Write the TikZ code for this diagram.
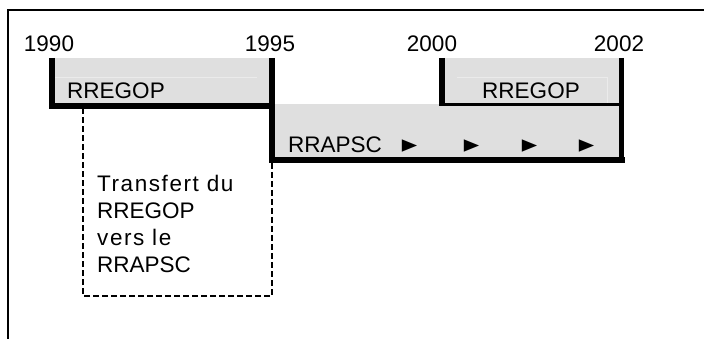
\documentclass[tikz,border=0pt]{standalone}
\usepackage{fontspec}
\setmainfont{Liberation Sans}
\newfontfamily\widefont[LetterSpace=7]{Liberation Sans}
\newfontfamily\symfont{DejaVu Sans}
\definecolor{barfill}{HTML}{DFDFDF}
\definecolor{faintline}{HTML}{EBEBEB}
\begin{document}
\begin{tikzpicture}[x=1pt,y=-1pt,
  lbl/.style={inner sep=0pt, font=\fontsize{22.5}{27}\selectfont},
  year/.style={lbl},
  thickbar/.style={line width=6pt},
  tri/.style={inner sep=0pt, font=\symfont\fontsize{20}{20}\selectfont},
  dashbox/.style={line width=2pt, dash pattern=on 6pt off 3pt}]
\useasboundingbox (0,0) rectangle (704,339);
% frame
\draw[line width=2pt] (8,339) -- (8,10) -- (704,10);
% fills
\fill[barfill] (52,58) rectangle (272,106);
\fill[barfill] (272,104) rectangle (622,160);
\fill[barfill] (442,58) rectangle (622,104);
% faint text frames
\draw[faintline, line width=0.8pt] (55,77) -- (257,77);
\draw[faintline, line width=0.8pt] (457,77) -- (607,77) -- (607,103);
% dashed box
\draw[dashbox] (272,163) -- (272,296) -- (83,296) -- (83,109);
% bars
\draw[thickbar] (52,58) -- (52,109);
\draw[thickbar] (49,106) -- (275,106);
\draw[thickbar] (272,58) -- (272,163);
\draw[thickbar] (269,160) -- (625,160);
\draw[line width=5.5pt] (621.5,58) -- (621.5,163);
\draw[thickbar] (442,58) -- (442,106);
\draw[line width=2.5pt] (442,104.5) -- (620,104.5);
% years
\node[year] (y1990) at (49,44) {1990};
\node[year] (y1995) at (270,44) {1995};
\node[year] (y2000) at (432,44) {2000};
\node[year] (y2002) at (619,44) {2002};
% labels
\node[lbl] (r1) at (116,91) {RREGOP};
\node[lbl] (r2) at (531,91) {RREGOP};
\node[lbl, anchor=base west] (rr) at (288,152.5) {RRAPSC};
\node[tri, anchor=base] (t1) at (409.5,152.5) {\scalebox{1}[1.25]{►}};
\node[tri, anchor=base] (t2) at (471.5,152.5) {\scalebox{1}[1.25]{►}};
\node[tri, anchor=base] (t3) at (529.5,152.5) {\scalebox{1}[1.25]{►}};
\node[tri, anchor=base] (t4) at (586.5,152.5) {\scalebox{1}[1.25]{►}};
\node[lbl, anchor=base west, align=left] (tr) at (97,272) {{\widefont Transfert du}\\RREGOP\\{\widefont vers le}\\RRAPSC};
\end{tikzpicture}
\end{document}
